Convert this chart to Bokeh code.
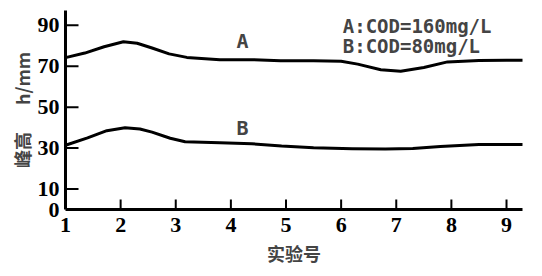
from bokeh.plotting import figure
from bokeh.models import Range1d, FixedTicker, Label, Title
from bokeh.embed import file_html
from bokeh.resources import INLINE
import math

# data
run_no = [1, 2, 3, 4, 5, 6, 7, 8, 9]
y_ticks = [0, 10, 30, 50, 70, 90]

a_x = [1.0, 1.35, 1.7, 2.05, 2.3, 2.57, 2.88, 3.2, 3.8, 4.4, 4.9, 5.5, 6.0, 6.3, 6.72, 7.08, 7.5, 7.93, 8.5, 9.0, 9.29]
a_y = [74.2, 76.4, 79.5, 81.9, 81.2, 78.9, 76.0, 74.3, 73.2, 73.2, 72.7, 72.6, 72.4, 71.0, 68.3, 67.5, 69.4, 72.1, 72.8, 72.9, 72.9]

b_x = [1.0, 1.4, 1.75, 2.08, 2.35, 2.57, 2.9, 3.17, 3.8, 4.38, 4.92, 5.5, 6.2, 6.8, 7.3, 7.8, 8.5, 9.0, 9.29]
b_y = [31.4, 35.0, 38.5, 39.9, 39.3, 37.8, 34.8, 33.1, 32.6, 32.1, 31.0, 30.2, 29.7, 29.6, 29.8, 30.8, 31.7, 31.8, 31.8]

curve_labels = ["A", "B"]
legend_lines = ["A:COD=160mg/L", "B:COD=80mg/L"]
x_title = "实验号"
y_title = "峰高\u2003\u2002h/mm"

p = figure(width=534, height=268, output_backend="svg", toolbar_location=None,
           x_range=Range1d(1, 9.29), y_range=Range1d(0, 97.2),
           min_border_left=65, min_border_right=12, min_border_top=10, min_border_bottom=57)
p.outline_line_color = None
p.grid.visible = False
p.background_fill_color = "white"

p.line(a_x, a_y, line_width=3, color="black", line_join="round", line_cap="round")
p.line(b_x, b_y, line_width=3, color="black", line_join="round", line_cap="round")

# inward tick marks: dash markers centred on the axes (the outer half is clipped by the frame)
xt = [float(t) for t in run_no[1:]]
yt = [float(t) for t in y_ticks[1:]]
p.scatter(x=xt, y=[0.0] * len(xt), marker="dash", size=20, angle=math.pi / 2,
          line_color="black", line_width=2)
p.scatter(x=[1.0] * len(yt), y=yt, marker="dash", size=26,
          line_color="black", line_width=2)

tick_font = "Liberation Serif"
for ax in (p.xaxis[0], p.yaxis[0]):
    ax.axis_line_width = 3
    ax.axis_line_color = "black"
    ax.major_tick_out = 0
    ax.major_tick_in = 0
    ax.major_tick_line_color = None
    ax.minor_tick_line_color = None
    ax.major_label_text_font = tick_font
    ax.major_label_text_font_style = "bold"
    ax.major_label_text_font_size = "22px"
    ax.major_label_text_color = "black"

p.xaxis[0].ticker = FixedTicker(ticks=run_no)
p.xaxis[0].major_label_standoff = 8
p.yaxis[0].ticker = FixedTicker(ticks=y_ticks)
p.yaxis[0].major_label_standoff = 6

mono = "DejaVu Sans Mono"
p.add_layout(Label(x=4.21, y=82.2, text=curve_labels[0], text_font=mono,
                   text_font_style="bold", text_font_size="20px", text_align="center",
                   text_baseline="middle"))
p.add_layout(Label(x=4.21, y=39.9, text=curve_labels[1], text_font=mono,
                   text_font_style="bold", text_font_size="20px", text_align="center",
                   text_baseline="middle"))

p.add_layout(Label(x=6.03, y=89.7, text=legend_lines[0], text_font=mono,
                   text_font_style="bold", text_font_size="19px", text_align="left",
                   text_baseline="middle"))
p.add_layout(Label(x=6.03, y=80.0, text=legend_lines[1], text_font=mono,
                   text_font_style="bold", text_font_size="19px", text_align="left",
                   text_baseline="middle"))

cjk = "Noto Sans CJK SC"
p.add_layout(Title(text=x_title, text_font=cjk, text_font_style="bold", text_font_size="18px",
                   align="center", offset=-24, standoff=6), "below")
p.add_layout(Title(text=y_title, text_font=cjk, text_font_style="bold", text_font_size="18px",
                   align="center", offset=-2, standoff=0), "left")

open("out.html", "w").write(file_html(p, INLINE))
